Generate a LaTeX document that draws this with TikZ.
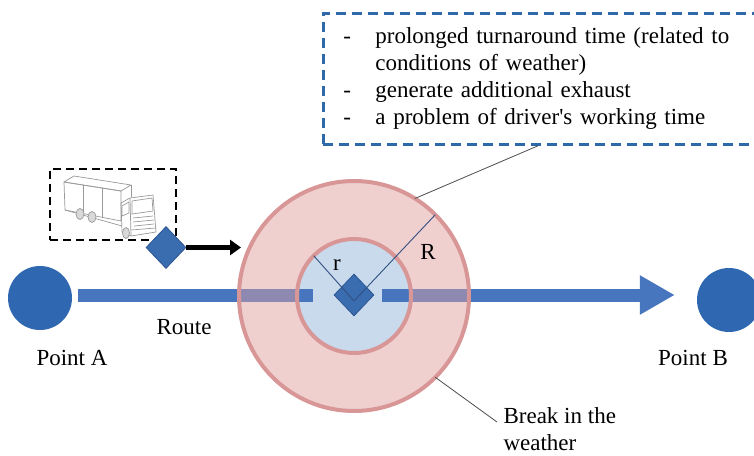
\documentclass[tikz,border=0pt]{standalone}
\usepackage{fontspec}
\setmainfont{Liberation Serif}
\usetikzlibrary{shapes.geometric,arrows.meta,positioning}
\definecolor{stopblue}{RGB}{47,104,177}
\definecolor{routeblue}{RGB}{72,118,190}
\definecolor{ringfill}{RGB}{240,207,207}
\definecolor{ringedge}{RGB}{216,150,150}
\definecolor{corefill}{RGB}{200,218,236}
\definecolor{barmix}{RGB}{142,137,176}
\definecolor{pinblue}{RGB}{58,108,176}
\definecolor{pinedge}{RGB}{45,85,145}
\definecolor{radblue}{RGB}{50,80,130}
\definecolor{noteblue}{RGB}{46,105,170}

\begin{document}
\begin{tikzpicture}[
    x=1pt, y=-1pt,
    font=\fontsize{23}{27}\selectfont,
    stop/.style={circle, fill=stopblue, minimum size=64pt, inner sep=0pt},
    route/.style={draw=routeblue, line width=13pt},
    pin/.style={diamond, fill=pinblue, draw=pinedge, line width=0.8pt, minimum width=40pt, minimum height=42pt, inner sep=0pt},
    zone/.style={circle, inner sep=0pt, outer sep=0pt},
    ringline/.style={draw=ringedge, line width=4pt},
    spoke/.style={draw=radblue, line width=0.9pt},
    callout/.style={draw=black!70, line width=0.8pt},
    heading/.style={-{Triangle[length=11pt,width=15pt]}, line width=4.5pt},
    notes/.style={draw=noteblue, line width=2.8pt, dash pattern=on 10pt off 6pt, text width=418pt, inner xsep=20pt, inner ysep=0pt, minimum height=131pt, align=left},
    truckbox/.style={draw, line width=2.5pt, dash pattern=on 8pt off 5pt, minimum width=126pt, minimum height=71pt},
    truckline/.style={draw=gray!80, line width=0.7pt, line join=round}
]
\useasboundingbox (0,0) rectangle (754,455);
\clip (0,0) rectangle (754,455);

% end points of the route
\node[stop] (ptA) at (40,298) {};
\node[stop] (ptB) at (729,300) {};
\node (lblA) at (72,358) {Point A};
\node (lblB) at (693,358) {Point B};

% weather zone around the stop
\node[zone, fill=ringfill, minimum size=230pt] (ring) at (354,296) {};
\node[zone, fill=corefill, minimum size=114pt] (core) at (354,296) {};
\coordinate (stubL) at (313,295);
\coordinate (stubR) at (382,295);

\draw[route, shorten <=6pt] (ptA.east |- stubL) -- (stubL);
\draw[route, -{Triangle[length=35pt,width=37pt]}, shorten >=22pt] (stubR) -- (ptB.west |- stubR);
\draw[route, draw=barmix] (ring.west |- stubL) -- (core.west |- stubL);
\draw[route, draw=barmix] (core.east |- stubR) -- (ring.east |- stubR);
\draw[ringline] (ring.center) circle[radius=115pt];
\draw[ringline] (core.center) circle[radius=57pt];
\node (lblroute) at (184,327) {Route};

\node[pin] (hubpin) at (354,295) {};
\coordinate (foot) at (354,301);
\draw[spoke] (foot) -- (core.135);
\draw[spoke] (foot) -- (ring.45);
\node (lblr) at (337,265) {r};
\node (lblR) at (428,252) {R};

% truck and its heading
\node[truckbox] (truck) at (113,204.5) {};
\draw[truckline] (64,182) -- (74,176) -- (131,185) -- (121,191) -- cycle;
\draw[truckline] (64,182) -- (121,191) -- (121,221) -- (65,210) -- cycle;
\draw[truckline] (131,185) -- (131,197);
\draw[truckline] (83,185) -- (83,214) (102,188) -- (102,218);
\draw[truckline] (121,203) -- (130,198) -- (153,195) -- (156,232) -- (131,236) -- (122,232) -- cycle;
\draw[truckline] (130,198) -- (131,236);
\draw[truckline] (132,201) -- (152,198) -- (153,211) -- (132,214) -- cycle;
\draw[truckline] (122,206) -- (129,202) -- (129,213) -- (122,216) -- cycle;
\draw[truckline] (133,218) -- (153,216) (133,222) -- (154,220) (134,226) -- (154,224) (131,230) -- (156,228);
\draw[truckline] (65,210) -- (122,226);
\draw[truckline, fill=gray!30] (80,214) ellipse (4pt and 5.5pt) (92,217) ellipse (4pt and 5.5pt) (126,233) ellipse (3.5pt and 5.5pt);
\node[pin] (rig) at (166,247.5) {};
\coordinate (aim) at (241,247.5);
\draw[heading] (rig) -- (aim);

% consequences of a break
\node[notes, anchor=north west] (notes) at (322,12) {%
\makebox[32pt][l]{-}\makebox[362pt][s]{prolonged turnaround time (related to}\\
\hspace*{32pt}conditions of weather)\\
\makebox[32pt][l]{-}generate additional exhaust\\
\makebox[32pt][l]{-}a problem of driver\textquotesingle s working time};
\draw[callout] (ring.58) -- ([xshift=216pt]notes.south west);

\node[anchor=base west, align=left] (brk) at (500,450) {Break in the\\weather};
\draw[callout] (ring.-45) -- ([xshift=-3pt,yshift=28pt]brk.base west);
\end{tikzpicture}
\end{document}
